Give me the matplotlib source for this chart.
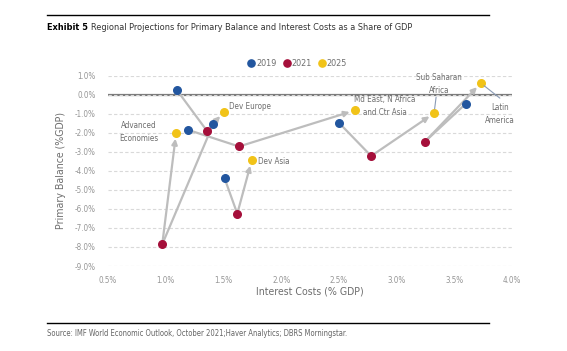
import matplotlib.pyplot as plt
from matplotlib.lines import Line2D

plt.rcParams['font.family'] = ['Liberation Sans Narrow', 'DejaVu Sans']
plt.rcParams['font.stretch'] = 'condensed'

# data (interest costs % GDP, primary balance % GDP)
regions = ['Advanced\nEconomies', 'Dev Europe', 'Dev Asia',
           'Md East, N Africa\nand Ctr Asia', 'Sub Saharan\nAfrica', 'Latin\nAmerica']
ic_2019 = [1.41, 1.095, 1.51, 1.19, 2.50, 3.60]
pb_2019 = [-1.56, 0.26, -4.39, -1.84, -1.47, -0.47]
ic_2021 = [0.97, 1.355, 1.62, 1.635, 2.78, 3.245]
pb_2021 = [-7.86, -1.88, -6.25, -2.72, -3.22, -2.47]
ic_2025 = [1.09, 1.505, 1.745, 2.64, 3.325, 3.73]
pb_2025 = [-2.02, -0.91, -3.45, -0.82, -0.97, 0.61]

years = ['2019', '2021', '2025']
colors = ['#22569f', '#a50f3a', '#f1c318']
grey = '#bdbdbd'
txt = '#6e6e6e'

fig = plt.figure(figsize=(5.67, 3.51), dpi=100)
ax = fig.add_axes([108/567, 1-266/351, 404/567, (266-75.7)/351])

# paths 2019 -> 2021 -> 2025
for i in range(len(regions)):
    ax.plot([ic_2019[i], ic_2021[i]], [pb_2019[i], pb_2021[i]], color=grey, lw=1.6, zorder=2)
    ax.annotate('', xy=(ic_2025[i], pb_2025[i]), xytext=(ic_2021[i], pb_2021[i]),
                arrowprops=dict(arrowstyle='-|>', color=grey, lw=1.6, mutation_scale=8,
                                shrinkA=0, shrinkB=4), zorder=2)

ax.scatter(ic_2019, pb_2019, s=30, color=colors[0], zorder=3)
ax.scatter(ic_2021, pb_2021, s=30, color=colors[1], zorder=3)
ax.scatter(ic_2025, pb_2025, s=30, color=colors[2], zorder=3)

# region labels (offsets in pixels from the 2025 point)
offs = [(-37, 1, 'center'), (5, 6, 'left'), (6, -1, 'left'),
        (30, 4, 'center'), (5, 29, 'center'), (19, -31, 'center')]
for i, name in enumerate(regions):
    dx, dy, ha = offs[i]
    ax.annotate(name, xy=(ic_2025[i], pb_2025[i]), xytext=(dx, dy), textcoords='offset pixels',
                ha=ha, va='center', fontsize=5.8, color=txt, linespacing=1.6)

# leader lines
ax.annotate('', xy=(ic_2025[4], pb_2025[4]), xytext=(2, 16), textcoords='offset pixels',
            xycoords='data', arrowprops=dict(arrowstyle='-', color='#8a9bb5', lw=0.8, shrinkA=0, shrinkB=3))
ax.annotate('', xy=(ic_2025[5], pb_2025[5]), xytext=(19, -15), textcoords='offset pixels',
            arrowprops=dict(arrowstyle='-', color='#8a9bb5', lw=0.8, shrinkA=0, shrinkB=3))

ax.axhline(0, color='#7a7a7a', lw=1.6, zorder=1)

ax.set_xlim(0.5, 4.0)
ax.set_ylim(-9, 1)
ax.set_xticks([0.5, 1.0, 1.5, 2.0, 2.5, 3.0, 3.5, 4.0])
ax.set_xticklabels(['{:.1f}%'.format(v) for v in ax.get_xticks()])
ax.set_yticks(range(-9, 2))
ax.set_yticklabels(['{:.1f}%'.format(v) for v in range(-9, 2)])
ax.grid(axis='y', linestyle=(0, (3, 2)), color='#d9d9d9', lw=0.8, zorder=0)
for s in ax.spines.values():
    s.set_visible(False)
ax.tick_params(length=0, labelsize=5.8, colors='#959595', pad=9)
ax.tick_params(axis='x', pad=7)
ax.set_xlabel('Interest Costs (% GDP)', fontsize=7.6, color=txt, labelpad=1)
ax.set_ylabel('Primary Balance (%GDP)', fontsize=7.6, color=txt, labelpad=6)

handles = [Line2D([], [], marker='o', ls='', color=c, markersize=5.2) for c in colors]
fig.legend(handles, years, loc='center', bbox_to_anchor=(297/567, 1-64/351), ncol=3,
           frameon=False, fontsize=6.5, handletextpad=0.05, columnspacing=0.6,
           labelcolor=txt, handlelength=1)

# title and source
fig.add_artist(Line2D([47/567, 489/567], [1-15/351, 1-15/351], color='black', lw=1))
t1 = fig.text(47/567, 1-27/351, 'Exhibit 5', fontsize=6.6, fontweight='bold', va='center')
fig.canvas.draw()
x_end = t1.get_window_extent().x1 / 567
fig.text(x_end + 3/567, 1-27/351, 'Regional Projections for Primary Balance and Interest Costs as a Share of GDP',
         fontsize=6.6, va='center', color='#333333')
fig.add_artist(Line2D([47/567, 489/567], [1-323/351, 1-323/351], color='black', lw=1))
fig.text(47/567, 1-333/351, 'Source: IMF World Economic Outlook, October 2021;Haver Analytics; DBRS Morningstar.',
         fontsize=5.5, va='center', color='#666666')

fig.savefig('out.png', dpi=100)
